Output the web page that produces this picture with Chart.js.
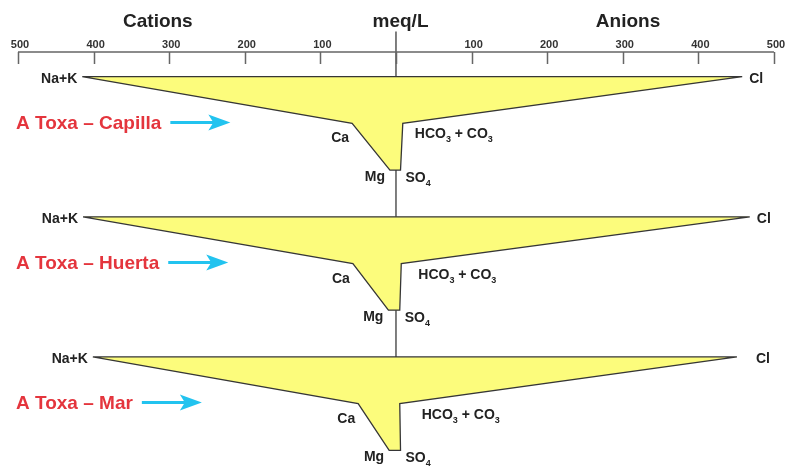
<!DOCTYPE html>
<html><head><meta charset="utf-8">
<script src="https://cdn.jsdelivr.net/npm/chart.js@4"></script>
<style>html,body{margin:0;padding:0;background:#fff}canvas{display:block}</style>
</head><body>
<canvas id="c" width="785" height="466"></canvas>
<script>
// Stiff diagrams, three sampling sites (values in meq/L)
const sites = ['A Toxa – Capilla', 'A Toxa – Huerta', 'A Toxa – Mar'];
// cations
const naK  = [415, 414, 401];
const ca   = [58, 57, 50];
const mg   = [8, 10, 9];
// anions
const cl   = [458, 468, 451];
const hco3 = [9, 7, 5];
const so4  = [6, 5, 6];

const tickValues = [-500, -400, -300, -200, -100, 0, 100, 200, 300, 400, 500];
const tickLabels = ['500', '400', '300', '200', '100', '', '100', '200', '300', '400', '500'];
const axisTitles = ['Cations', 'meq/L', 'Anions'];
const titleCenters = [-315, 6, 307];

const FONT = '"Liberation Sans", Arial, sans-serif';
const AXIS_ROW = -0.53;   // row position of the meq/L axis line
const LINE_TOP = -0.97;   // top of the central zero line

function shape(i) {
  const t = i * 3;
  return [
    {x: -naK[i], y: t}, {x: -ca[i], y: t + 1}, {x: -mg[i], y: t + 2},
    {x: so4[i], y: t + 2}, {x: hco3[i], y: t + 1}, {x: cl[i], y: t},
    {x: -naK[i], y: t}
  ];
}

const datasets = sites.map((s, i) => ({
  label: s,
  data: shape(i),
  showLine: true,
  fill: 'shape',
  backgroundColor: '#fcfc7c',
  borderColor: '#363636',
  borderWidth: 1.3,
  pointRadius: 0,
  tension: 0,
  order: 0
}));
datasets.push({
  label: 'zero',
  data: [{x: 0, y: LINE_TOP}, {x: 0, y: (sites.length - 1) * 3}],
  showLine: true,
  fill: false,
  borderColor: '#555',
  borderWidth: 1.5,
  pointRadius: 0,
  order: 10
});

function subText(ctx, parts, x, yBase, size) {
  // parts: [text, isSubscript]
  let cx = x;
  parts.forEach(([t, sub]) => {
    ctx.font = 'bold ' + (sub ? Math.round(size * 0.65) : size) + 'px ' + FONT;
    ctx.fillText(t, cx, yBase + (sub ? 4 : 0));
    cx += ctx.measureText(t).width;
  });
}

const stiffDecor = {
  id: 'stiffDecor',
  afterDatasetsDraw(chart) {
    const {ctx, scales: {x, y}} = chart;
    ctx.save();
    // top axis
    const ay = y.getPixelForValue(AXIS_ROW);
    ctx.strokeStyle = '#666';
    ctx.lineWidth = 1.5;
    ctx.beginPath();
    ctx.moveTo(x.getPixelForValue(tickValues[0]), ay);
    ctx.lineTo(x.getPixelForValue(tickValues[tickValues.length - 1]), ay);
    tickValues.forEach(v => {
      const px = Math.round(x.getPixelForValue(v)) + 0.5;
      ctx.moveTo(px, ay);
      ctx.lineTo(px, ay + 12);
    });
    ctx.stroke();
    ctx.fillStyle = '#333';
    ctx.textAlign = 'center';
    ctx.textBaseline = 'alphabetic';
    ctx.font = 'bold 11px ' + FONT;
    tickValues.forEach((v, k) => {
      ctx.fillText(tickLabels[k], x.getPixelForValue(v) + 2, ay - 4);
    });
    ctx.fillStyle = '#222';
    ctx.font = 'bold 19px ' + FONT;
    axisTitles.forEach((t, k) => ctx.fillText(t, x.getPixelForValue(titleCenters[k]), ay - 25));

    // ion labels
    const size = 14;
    const cap = size * 0.36;
    sites.forEach((s, i) => {
      const t = i * 3;
      const r0 = y.getPixelForValue(t), r1 = y.getPixelForValue(t + 1), r2 = y.getPixelForValue(t + 2);
      ctx.fillStyle = '#222';
      ctx.font = 'bold ' + size + 'px ' + FONT;
      ctx.textAlign = 'right';
      ctx.fillText('Na+K', x.getPixelForValue(-naK[i]) - 5, r0 + 1 + cap);
      ctx.fillText('Ca', x.getPixelForValue(-ca[i]) - 3, r1 + 14 + cap);
      ctx.fillText('Mg', x.getPixelForValue(-mg[i]) - 5, r2 + 6 + cap);
      ctx.textAlign = 'left';
      ctx.fillText('Cl', x.getPixelForValue(cl[i]) + 7 + (i === 2 ? 12 : 0), r0 + 1 + cap);
      subText(ctx, [['HCO', false], ['3', true], [' + CO', false], ['3', true]],
        x.getPixelForValue(hco3[i]) + 12 + i * 5, r1 + 10 + cap, size);
      subText(ctx, [['SO', false], ['4', true]], x.getPixelForValue(so4[i]) + 5, r2 + 7 + cap, size);

      // site name and arrow
      ctx.fillStyle = '#e4353d';
      ctx.font = 'bold 19px ' + FONT;
      ctx.textAlign = 'left';
      ctx.fillText(s, 16, r1 - 1 + 19 * 0.36);
      const end = 16 + ctx.measureText(s).width;
      const x0 = end + 9, x1 = end + 69, yc = r1 - 1;
      ctx.strokeStyle = '#22c3ef';
      ctx.fillStyle = '#22c3ef';
      ctx.lineWidth = 3;
      ctx.beginPath();
      ctx.moveTo(x0, yc);
      ctx.lineTo(x1 - 14, yc);
      ctx.stroke();
      ctx.beginPath();
      ctx.moveTo(x1, yc);
      ctx.lineTo(x1 - 22, yc - 8);
      ctx.lineTo(x1 - 17, yc);
      ctx.lineTo(x1 - 22, yc + 8);
      ctx.closePath();
      ctx.fill();
    });
    ctx.restore();
  }
};

new Chart(document.getElementById('c'), {
  type: 'scatter',
  data: {datasets},
  options: {
    responsive: false,
    animation: false,
    events: [],
    layout: {padding: 0},
    plugins: {legend: {display: false}, tooltip: {enabled: false}},
    scales: {
      x: {type: 'linear', display: false, min: -523.8, max: 514.6},
      y: {type: 'linear', display: false, reverse: true, min: -1.642, max: 8.336}
    }
  },
  plugins: [stiffDecor]
});
</script>
</body></html>
